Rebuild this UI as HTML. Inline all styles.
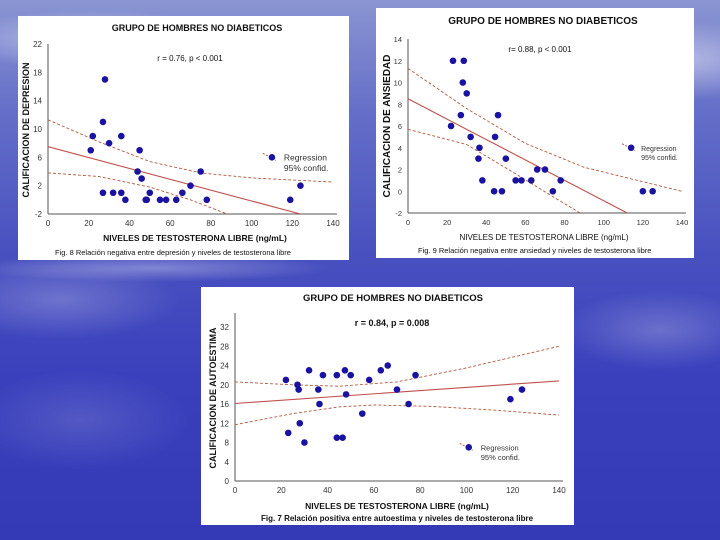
<!DOCTYPE html>
<html><head><meta charset="utf-8"><style>
html,body{margin:0;padding:0;width:720px;height:540px;overflow:hidden}
body{background:linear-gradient(180deg,#8a95d2 0%,#6670c8 20%,#4a52c0 45%,#3a40bc 70%,#343ab6 100%);position:relative;font-family:"Liberation Sans",sans-serif}
svg{position:absolute;left:0;top:0}
</style></head><body>
<svg id="s" width="720" height="540" xmlns="http://www.w3.org/2000/svg">
<defs>
<radialGradient id="g1" cx="0.5" cy="0.5" r="0.5"><stop offset="0" stop-color="#fff" stop-opacity="0.45"/><stop offset="1" stop-color="#fff" stop-opacity="0"/></radialGradient>
</defs>
<ellipse cx="90" cy="40" rx="140" ry="30" fill="url(#g1)"/>
<ellipse cx="680" cy="60" rx="120" ry="40" fill="url(#g1)"/>
<ellipse cx="150" cy="268" rx="180" ry="14" fill="url(#g1)" opacity="0.7"/>
<ellipse cx="60" cy="300" rx="120" ry="40" fill="url(#g1)" opacity="0.5"/>
<ellipse cx="660" cy="330" rx="100" ry="40" fill="url(#g1)" opacity="0.5"/>
<ellipse cx="80" cy="420" rx="110" ry="50" fill="url(#g1)" opacity="0.3"/>
<rect x="18" y="16" width="331" height="244" fill="#fff"/>
<rect x="376" y="8" width="318" height="250" fill="#fff"/>
<rect x="201" y="287" width="373" height="238" fill="#fff"/>
<g id="c"></g>
</svg>
<script>
var c=document.getElementById('c'),NS='http://www.w3.org/2000/svg';
function el(t,a,txt){var e=document.createElementNS(NS,t);for(var k in a)e.setAttribute(k,a[k]);if(txt!=null)e.textContent=txt;c.appendChild(e);return e;}
function chart(o){
 var X=function(v){return o.x0+(o.x1-o.x0)*v/140},Y=function(v){return o.yb-(o.yb-o.yt)*(v-o.ymin)/(o.ymax-o.ymin)};
 el('line',{x1:o.x0,y1:o.yaxTop,x2:o.x0,y2:o.yb,stroke:'#555','stroke-width':1});
 el('line',{x1:o.x0,y1:o.yb,x2:o.x1+4,y2:o.yb,stroke:'#555','stroke-width':1});
 for(var v=o.ymin;v<=o.ymax;v+=o.ystep)el('text',{x:o.x0-6,y:Y(v)+3,'font-size':o.tfs,'text-anchor':'end',fill:'#333'},v);
 for(var v=0;v<=140;v+=20)el('text',{x:X(v),y:o.yb+12,'font-size':o.tfs,'text-anchor':'middle',fill:'#333'},v);
 var clip='clip'+o.x0;var cp=document.createElementNS(NS,'clipPath');cp.setAttribute('id',clip);var r=document.createElementNS(NS,'rect');r.setAttribute('x',o.x0);r.setAttribute('y',o.yt-20);r.setAttribute('width',o.x1-o.x0);r.setAttribute('height',o.yb-o.yt+20);cp.appendChild(r);c.appendChild(cp);
 function path(pts,dash){var d=pts.map(function(p,i){return (i?'L':'M')+X(p[0]).toFixed(1)+','+Y(p[1]).toFixed(1)}).join('');var a={d:d,fill:'none',stroke:'#c0504d','stroke-width':dash?0.9:1.1,'clip-path':'url(#'+clip+')'};if(dash){a['stroke-dasharray']='3,2';a.stroke='#b05a40';}el('path',a);}
 path(o.reg,false);path(o.up,true);path(o.lo,true);
 o.pts.forEach(function(p){el('circle',{cx:X(p[0]),cy:Y(p[1]),r:3.3,fill:'#1a12a0'});});
 var lx=X(o.leg[0]),ly=Y(o.leg[1]);
 el('line',{x1:lx-9,y1:ly-4,x2:lx+4,y2:ly+3,stroke:'#b05a40','stroke-dasharray':'2,1.5'});
 el('circle',{cx:lx,cy:ly,r:3.3,fill:'#1a12a0'});
 el('text',{x:lx+o.lgx,y:ly+3,'font-size':o.lfs,fill:'#333'},'Regression');
 el('text',{x:lx+o.lgx,y:ly+3+o.lfs+2,'font-size':o.lfs,fill:'#333'},'95% confid.');
}
function T(x,y,s,fs,w,anc,rot){var a={x:x,y:y,'font-size':fs,'font-weight':w||'normal','text-anchor':anc||'middle',fill:'#111'};if(rot)a.transform='rotate(-90 '+x+' '+y+')';el('text',a,s);}
chart({x0:48,x1:333,yt:44,yb:214,yaxTop:44,ymin:-2,ymax:22,ystep:4,tfs:8,lfs:8.5,lgx:12,leg:[110,6],
pts:[[21,7],[22,9],[27,1],[27,11],[28,17],[30,8],[32,1],[36,1],[36,9],[38,0],[44,4],[45,7],[46,3],[48,0],[48.5,0],[50,1],[55,0],[58,0],[63,0],[66,1],[70,2],[75,4],[78,0],[119,0],[124,2]],
reg:[[0,7.5],[124,-2]],up:[[0,11.3],[25,8.2],[50,5.4],[75,3.8],[100,3.1],[140,2.5]],lo:[[0,3.8],[25,3.3],[50,1.8],[70,0],[88,-2]]});
T(197,31,'GRUPO DE HOMBRES NO DIABETICOS',9,'bold');
T(190,61,'r = 0.76, p < 0.001',8);
T(29,130,'CALIFICACION DE DEPRESION',9,'bold','middle',true);
T(195,241,'NIVELES DE TESTOSTERONA LIBRE (ng/mL)',8.5,'bold');
T(55,255,'Fig. 8  Relación negativa entre depresión y niveles de testosterona libre',7.5,'normal','start');
chart({x0:408,x1:682,yt:39,yb:213,yaxTop:39,ymin:-2,ymax:14,ystep:2,tfs:7.5,lfs:7,lgx:10,leg:[114,4],
pts:[[22,6],[23,12],[27,7],[28,10],[28.5,12],[30,9],[32,5],[36,3],[36.5,4],[38,1],[44,0],[44.5,5],[46,7],[48,0],[50,3],[55,1],[58,1],[63,1],[66,2],[70,2],[74,0],[78,1],[120,0],[125,0]],
reg:[[0,8.5],[112,-2]],up:[[0,11.3],[30,7.6],[60,4.4],[90,2.2],[140,0]],lo:[[0,5.7],[30,4.3],[55,1.6],[75,-0.6],[88,-2]]});
T(543,24,'GRUPO DE HOMBRES NO DIABETICOS',10,'bold');
T(540,52,'r= 0.88, p < 0.001',8);
T(390,126,'CALIFICACION DE ANSIEDAD',10,'bold','middle',true);
T(544,240,'NIVELES DE TESTOSTERONA  LIBRE (ng/mL)',8);
T(418,253,'Fig. 9 Relación negativa entre ansiedad y niveles de testosterona libre',7.5,'normal','start');
chart({x0:235,x1:559,yt:327,yb:481,yaxTop:313,ymin:0,ymax:32,ystep:4,tfs:8,lfs:7.5,lgx:12,leg:[101,7],
pts:[[22,21],[23,10],[27,20],[27.5,19],[28,12],[30,8],[32,23],[36,19],[36.5,16],[38,22],[44,22],[44,9],[46.5,9],[47.5,23],[48,18],[50,22],[55,14],[58,21],[63,23],[66,24],[70,19],[75,16],[78,22],[119,17],[124,19]],
reg:[[0,16.1],[140,20.8]],up:[[0,20.6],[25,20],[45,19.7],[70,20.6],[100,23.5],[140,28]],lo:[[0,11.7],[25,14],[45,15.4],[60,15.8],[85,15.5],[110,14.8],[140,13.7]]});
T(393,301,'GRUPO DE HOMBRES NO DIABETICOS',9.5,'bold');
T(392,326,'r = 0.84, p = 0.008',9,'bold');
T(216,398,'CALIFICACION DE AUTOESTIMA',9,'bold','middle',true);
T(397,509,'NIVELES DE TESTOSTERONA LIBRE (ng/mL)',8.5,'bold');
T(397,521,'Fig. 7 Relación positiva entre autoestima y niveles de testosterona libre',8,'bold');
</script>
</body></html>
